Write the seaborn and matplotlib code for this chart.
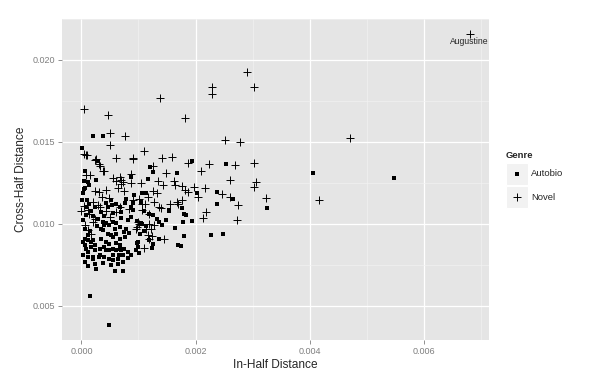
import numpy as np
import pandas as pd
import matplotlib
matplotlib.use("Agg")
import matplotlib.pyplot as plt
import seaborn as sns

sns.set_theme(style="white")
plt.rcParams["font.family"] = ["Liberation Sans", "DejaVu Sans"]

# -----------------------
# DATA (distances in units of 1e-3)
# -----------------------
autobio_x = [
    4.05, 5.47, 0.01, 0.20, 0.37, 0.49, 0.15, 0.58, 0.29, 0.07,
    0.26, 0.11, 0.13, 0.06, 0.03, 0.01, 0.10, 0.14, 0.43, 0.52,
    0.54, 0.61, 0.04, 0.04, 0.08, 0.17, 0.23, 0.34, 0.46, 0.55,
    0.20, 0.40, 0.08, 0.03, 0.29, 0.37, 0.43, 0.55, 0.61, 0.49,
    0.67, 0.06, 0.11, 0.20, 0.06, 0.34, 0.37, 0.46, 0.52, 0.55,
    0.61, 0.67, 0.03, 0.11, 0.17, 0.23, 0.34, 0.43, 0.49, 0.61,
    0.67, 0.06, 0.08, 0.11, 0.17, 0.23, 0.32, 0.40, 0.43, 0.49,
    0.55, 0.61, 0.69, 0.03, 0.11, 0.20, 0.32, 0.40, 0.49, 0.55,
    0.64, 0.06, 0.23, 0.37, 0.52, 0.64, 0.26, 0.55, 0.72, 0.20,
    0.93, 0.91, 1.04, 1.07, 1.13, 0.86, 1.21, 1.25, 1.17, 1.68,
    1.94, 2.54, 2.03, 2.37, 2.66, 2.38, 3.25, 1.54, 1.77, 1.54,
    1.79, 1.83, 1.78, 1.93, 2.27, 2.48, 1.64, 1.79, 1.70, 1.74,
    0.90, 1.10, 1.18, 1.25, 1.33, 1.36, 1.42, 1.48, 1.07, 1.13,
    1.10, 1.03, 1.36, 1.18, 1.00, 1.25, 1.23, 0.95, 1.01, 0.67,
    0.69, 0.81, 0.87, 0.98, 1.04, 0.78, 0.75, 0.76, 0.98, 1.00,
    0.68, 0.74, 0.65, 0.72, 0.81, 0.86, 0.81, 0.72, 0.78, 0.76,
    0.87, 0.90, 0.15, 0.27, 0.40, 0.58, 0.70, 0.84, 0.30, 0.12,
]
autobio_y = [
    13.12, 12.80, 14.60, 15.37, 15.38, 3.80, 5.57, 7.15, 13.86, 13.25,
    12.70, 12.54, 12.34, 12.20, 11.87, 11.43, 11.46, 11.22, 11.26, 11.43,
    11.12, 11.22, 12.60, 12.13, 11.00, 10.81, 11.01, 10.75, 11.01, 10.65,
    10.50, 10.45, 10.55, 10.26, 10.30, 10.10, 10.02, 10.10, 10.02, 9.90,
    9.80, 9.70, 9.29, 9.00, 9.09, 9.70, 9.60, 9.39, 9.29, 9.19,
    9.39, 9.09, 8.88, 9.00, 8.88, 8.68, 9.09, 8.88, 8.78, 8.84,
    8.68, 8.68, 8.48, 8.27, 8.58, 8.38, 8.48, 8.58, 8.38, 8.38,
    8.48, 8.38, 8.38, 8.07, 7.97, 7.87, 8.07, 7.97, 7.87, 8.07,
    7.87, 7.66, 7.52, 7.60, 7.46, 7.56, 7.26, 7.82, 7.66, 7.95,
    11.77, 11.32, 11.36, 11.89, 11.87, 12.88, 13.45, 13.15, 12.74, 13.11,
    13.86, 13.66, 11.89, 11.93, 11.50, 11.18, 10.98, 10.87, 10.98, 10.77,
    10.61, 10.51, 10.10, 10.20, 9.33, 9.35, 9.76, 9.24, 8.72, 8.63,
    11.26, 10.77, 10.57, 10.51, 10.30, 10.10, 9.90, 10.24, 9.96, 9.84,
    9.59, 9.39, 9.09, 9.02, 8.88, 8.78, 8.54, 8.41, 8.20, 11.01,
    10.75, 10.26, 10.40, 10.20, 10.06, 9.69, 9.49, 9.18, 8.84, 8.61,
    8.48, 8.48, 8.11, 8.07, 8.27, 8.07, 7.90, 7.15, 11.52, 11.26,
    11.05, 10.85, 9.55, 9.85, 9.95, 9.70, 10.35, 9.45, 7.95, 7.40,
]

novel_x = [
    6.80, 2.90, 3.03, 2.28, 2.28, 1.37, 0.04, 0.47, 1.81, 0.76,
    0.50, 4.70, 2.51, 2.77, 4.16, 1.10, 1.58, 1.86, 2.23, 1.25,
    1.49, 2.09, 1.04, 1.35, 1.43, 1.62, 1.64, 1.77, 1.82, 1.87,
    1.97, 2.16, 2.04, 1.26, 1.33, 1.16, 1.01, 1.36, 1.56, 1.67,
    1.69, 1.77, 2.69, 3.03, 2.61, 3.06, 3.03, 2.47, 2.61, 3.23,
    2.74, 2.19, 2.13, 2.73, 1.07, 1.00, 1.18, 1.28, 0.97, 1.16,
    1.23, 1.45, 1.10, 0.08, 0.26, 0.32, 0.39, 0.61, 0.08, 0.15,
    0.55, 0.60, 0.68, 0.23, 0.30, 0.43, 0.64, 0.69, 0.36, 0.48,
    0.20, 0.29, 0.67, 0.91, 1.42, 0.86, 0.69, 0.72, 0.86, 0.74,
    0.90, 1.11, 1.28, 1.39, 1.07, 0.84, 1.18, 1.01, 1.13, 1.22,
    0.95, 1.19, 0.05, 0.10, 0.24, 0.30, 0.38, 0.50, 0.00, 0.11,
    0.32, 0.43, 0.61, 0.23, 0.20, 0.06, 0.11, 0.17, 0.14, 0.50,
    0.05, 0.91,
]
novel_y = [
    21.60, 19.28, 18.37, 18.37, 17.92, 17.66, 17.03, 16.66, 16.48, 15.38,
    15.52, 15.25, 15.13, 15.02, 11.47, 14.47, 14.06, 13.72, 13.66, 13.55,
    13.11, 13.21, 12.48, 12.64, 12.34, 12.64, 12.38, 12.29, 12.07, 11.93,
    12.27, 12.19, 11.62, 12.03, 11.87, 11.66, 11.52, 11.01, 11.18, 11.32,
    11.22, 11.48, 13.62, 13.72, 12.70, 12.54, 12.27, 11.83, 11.62, 11.56,
    11.12, 10.75, 10.37, 10.24, 11.22, 10.10, 9.96, 9.90, 9.79, 9.29,
    9.23, 9.09, 8.54, 14.23, 13.96, 13.55, 13.21, 14.02, 13.00, 13.00,
    12.80, 12.64, 12.84, 12.03, 11.93, 12.07, 12.20, 12.44, 11.62, 11.58,
    11.32, 11.12, 11.01, 14.02, 14.02, 13.05, 12.68, 12.54, 12.48, 12.03,
    11.43, 11.18, 11.32, 10.98, 10.85, 10.90, 10.61, 9.96, 9.70, 9.66,
    9.69, 9.09, 14.27, 14.18, 13.90, 13.66, 13.25, 14.84, 10.80, 10.85,
    11.01, 10.81, 10.70, 10.30, 10.10, 9.90, 9.60, 9.40, 10.60, 10.40,
    11.10, 13.96,
]

label_name = "Augustine"

scale = 1e-3
df = pd.concat([
    pd.DataFrame({"InHalf": np.array(autobio_x) * scale,
                  "CrossHalf": np.array(autobio_y) * scale,
                  "Genre": "Autobio"}),
    pd.DataFrame({"InHalf": np.array(novel_x) * scale,
                  "CrossHalf": np.array(novel_y) * scale,
                  "Genre": "Novel"}),
], ignore_index=True)

SQ_SIZE = 9
PLUS_SIZE = 30
PLUS_LW = 0.7

# -----------------------
# FIGURE
# -----------------------
fig = plt.figure(figsize=(6, 3.82), dpi=100)
ax = fig.add_axes([62 / 600, 1 - 340 / 382, (489 - 62) / 600, (340 - 19) / 382])
ax.set_facecolor("#E5E5E5")

sns.scatterplot(data=df[df["Genre"] == "Autobio"], x="InHalf", y="CrossHalf",
                marker="s", s=SQ_SIZE, color="black", linewidth=0, ax=ax, legend=False)
sns.scatterplot(data=df[df["Genre"] == "Novel"], x="InHalf", y="CrossHalf",
                marker="+", s=PLUS_SIZE, color="black", linewidth=PLUS_LW, ax=ax, legend=False)

# label for the top outlier
top = df.loc[df["CrossHalf"].idxmax()]
ax.annotate(label_name, (top["InHalf"], top["CrossHalf"]), xytext=(0, -2),
            textcoords="offset points", ha="center", va="top", fontsize=6.2)

# ggplot-like limits (5% expansion)
xmin, xmax = df["InHalf"].min(), df["InHalf"].max()
ymin, ymax = df["CrossHalf"].min(), df["CrossHalf"].max()
ax.set_xlim(xmin - 0.05 * (xmax - xmin), xmax + 0.05 * (xmax - xmin))
ax.set_ylim(ymin - 0.05 * (ymax - ymin), ymax + 0.05 * (ymax - ymin))

ax.set_xticks([0.000, 0.002, 0.004, 0.006])
ax.set_xticklabels(["0.000", "0.002", "0.004", "0.006"])
ax.set_yticks([0.005, 0.010, 0.015, 0.020])
ax.set_yticklabels(["0.005", "0.010", "0.015", "0.020"])
ax.set_xticks([0.001, 0.003, 0.005, 0.007], minor=True)
ax.set_yticks([0.0075, 0.0125, 0.0175, 0.0225], minor=True)

ax.grid(which="major", color="white", linewidth=0.9)
ax.grid(which="minor", color="#F2F2F2", linewidth=0.45)
ax.set_axisbelow(True)
for sp in ax.spines.values():
    sp.set_visible(False)

ax.tick_params(axis="both", which="major", length=3, width=0.6, color="#7F7F7F",
               labelsize=6.5, labelcolor="#7F7F7F", pad=2, bottom=True, left=True)
ax.tick_params(axis="both", which="minor", length=0)

ax.set_xlabel("In-Half Distance", fontsize=8.6, labelpad=2)
ax.set_ylabel("Cross-Half Distance", fontsize=8.6, labelpad=4)

# -----------------------
# LEGEND (ggplot style keys)
# -----------------------
lax = fig.add_axes([500 / 600, 1 - 215 / 382, 95 / 600, 70 / 382])
lax.set_xlim(500, 595)
lax.set_ylim(215, 145)
lax.axis("off")
lax.text(506, 155, "Genre", fontsize=6.8, fontweight="bold", va="center", ha="left")
for i, (name, mk) in enumerate([("Autobio", "s"), ("Novel", "+")]):
    yc = 174 + 23 * i
    lax.add_patch(plt.Rectangle((506, yc - 11), 22, 22, facecolor="#F2F2F2",
                                edgecolor="white", linewidth=0.8))
    if mk == "s":
        lax.scatter([517], [yc], marker="s", s=SQ_SIZE, color="black", linewidth=0)
    else:
        lax.scatter([517], [yc], marker="+", s=PLUS_SIZE, color="black", linewidth=PLUS_LW)
    lax.text(531, yc, name, fontsize=6.8, va="center", ha="left")

fig.savefig("out.png", dpi=100)
